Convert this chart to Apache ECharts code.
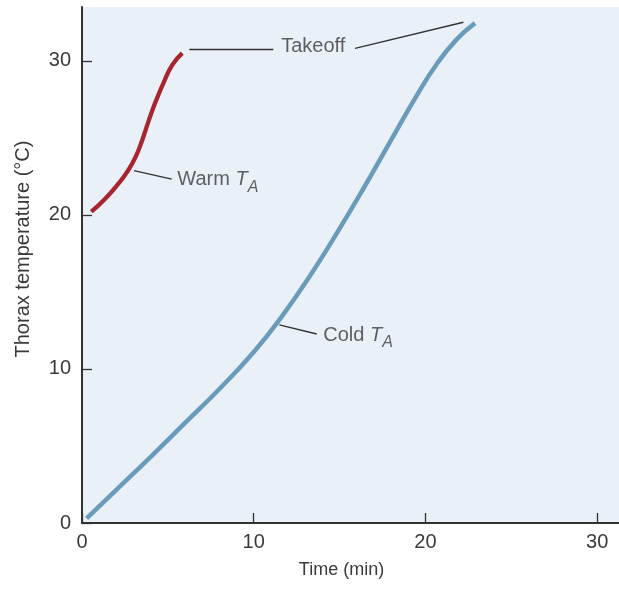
<!DOCTYPE html>
<html><head><meta charset="utf-8">
<script src="https://cdn.jsdelivr.net/npm/echarts@6/dist/echarts.min.js"></script>
<style>html,body{margin:0;padding:0;background:#fff}#c{width:619px;height:589px}</style>
</head><body><div id="c"></div>
<script>
// ---- data ----
const xTicks = [0, 10, 20, 30];
const yTicks = [0, 10, 20, 30];
const coldTime = [0.27, 2, 4, 6, 8, 10, 11.63, 13.28, 14.83, 16.38, 17.94, 19.49, 20.66, 21.82, 22.89];
const coldTemp = [0.3, 2.15, 4.3, 6.5, 8.7, 11.1, 13.4, 16.05, 18.8, 21.7, 24.75, 27.75, 29.8, 31.4, 32.45];
const warmTime = [0.54, 1.28, 2.06, 2.64, 3.13, 3.51, 3.9, 4.29, 4.78, 5.26, 5.84];
const warmTemp = [20.21, 20.97, 21.95, 22.81, 23.79, 24.87, 26.17, 27.36, 28.66, 29.74, 30.5];
// annotation leader lines, in data units: [x1, y1, x2, y2]
const leaderLines = [
  [6.25, 30.78, 11.14, 30.78],
  [15.9, 30.82, 22.21, 32.51],
  [3.03, 22.88, 5.22, 22.32],
  [11.49, 12.86, 13.67, 12.27]
];
// annotation labels: [x, y, text]
const labelPos = [
  [11.6, 30.84, '{n|Takeoff}'],
  [5.55, 22.24, '{n|Warm }{i|T}{s|A}'],
  [14.05, 12.14, '{n|Cold }{i|T}{s|A}']
];

const FONT = '"Liberation Sans", Arial, sans-serif';
const TXT = '#3a3a3a';
const chart = echarts.init(document.getElementById('c'), null, {renderer: 'canvas'});
const zip = (a, b) => a.map((v, i) => [v, b[i]]);

chart.setOption({
  animation: false,
  backgroundColor: '#ffffff',
  textStyle: {fontFamily: FONT},
  grid: {left: 82, top: 7, right: 0, bottom: 66, show: true, backgroundColor: '#eaf0f7', borderWidth: 0},
  xAxis: {
    type: 'value', min: 0, max: 31.27,
    name: 'Time (min)', nameLocation: 'middle', nameGap: 38,
    nameTextStyle: {fontSize: 18, color: TXT, fontFamily: FONT, padding: [0, 18, 0, 0]},
    axisLine: {show: true, onZero: false, lineStyle: {color: '#333', width: 2}},
    axisTick: {show: true, inside: true, length: 10, lineStyle: {color: '#333', width: 1.3}, customValues: xTicks},
    axisLabel: {fontSize: 20, color: TXT, margin: 9, fontFamily: FONT, customValues: xTicks},
    splitLine: {show: false}
  },
  yAxis: {
    type: 'value', min: 0, max: 33.5,
    name: 'Thorax temperature (°C)', nameLocation: 'middle', nameGap: 49,
    nameTextStyle: {fontSize: 20, color: TXT, fontFamily: FONT, padding: [0, 0, 0, 32]},
    axisLine: {show: true, onZero: false, lineStyle: {color: '#333', width: 2}},
    axisTick: {show: true, inside: true, length: 10, lineStyle: {color: '#333', width: 1.3}, customValues: yTicks},
    axisLabel: {fontSize: 20, color: TXT, margin: 11, fontFamily: FONT, customValues: yTicks},
    splitLine: {show: false}
  },
  series: [
    {
      type: 'line', name: 'Cold', data: zip(coldTime, coldTemp), smooth: 0.5,
      showSymbol: false, symbol: 'none', silent: true,
      lineStyle: {color: '#6a9bbb', width: 4.5, cap: 'butt'}
    },
    {
      type: 'line', name: 'Warm', data: zip(warmTime, warmTemp), smooth: 0.5,
      showSymbol: false, symbol: 'none', silent: true,
      lineStyle: {color: '#a8252f', width: 4.3, cap: 'butt'},
      markLine: {
        silent: true, symbol: 'none', animation: false,
        label: {show: false},
        lineStyle: {color: '#333', width: 1.3, type: 'solid'},
        data: leaderLines.map(l => [{coord: [l[0], l[1]]}, {coord: [l[2], l[3]]}])
      }
    },
    {
      type: 'scatter', name: 'labels', symbolSize: 0, silent: true,
      data: labelPos.map(p => ({value: [p[0], p[1]], label: {formatter: p[2]}})),
      label: {
        show: true, position: 'right', distance: 0,
        rich: {
          n: {fontSize: 20, color: TXT, fontFamily: FONT, lineHeight: 22, verticalAlign: 'top'},
          i: {fontSize: 20, color: TXT, fontFamily: FONT, fontStyle: 'italic', lineHeight: 22, verticalAlign: 'top'},
          s: {fontSize: 16, color: TXT, fontFamily: FONT, fontStyle: 'italic', lineHeight: 16, padding: [10, 0, 0, 0], verticalAlign: 'top'}
        }
      }
    }
  ]
});
</script></body></html>
